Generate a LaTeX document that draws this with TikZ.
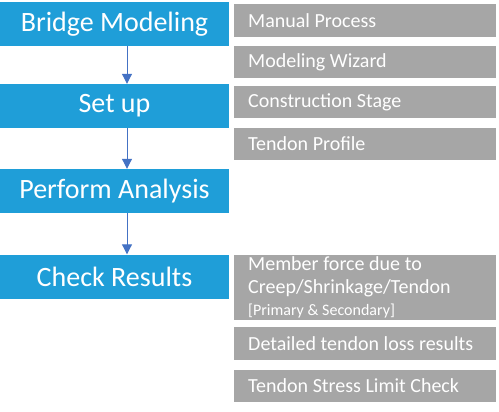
\documentclass[tikz,border=0pt]{standalone}
\usepackage{fontspec}
\setmainfont{Carlito}
\usetikzlibrary{arrows.meta}
\definecolor{stageblue}{RGB}{31,158,216}
\definecolor{itemgray}{RGB}{166,166,166}
\definecolor{flowblue}{RGB}{68,114,196}
\newcommand\tightspace{\spaceskip=0.23em plus 0.05em\relax}
\begin{document}
\begin{tikzpicture}[x=1pt,y=-1pt,
    stage/.style={fill=stageblue,text=white,minimum width=229pt,minimum height=44pt,
      inner sep=0pt,font=\fontsize{28}{30}\selectfont},
    item/.style={fill=itemgray,text=white,anchor=west,text width=234pt,inner xsep=14pt,
      inner ysep=0pt,minimum height=32pt,align=left,
      font=\fontsize{20}{23}\selectfont,execute at begin node=\tightspace},
    flow/.style={flowblue,line width=1pt,-{Triangle[width=10pt,length=10pt]}}]
    \useasboundingbox (0,0) rectangle (499,412);

    \node[stage] (model)   at (114.5,24)    {Bridge Modeling};
    \node[stage] (setup)   at (114.5,106)   {Set up};
    \node[stage] (analyse) at (114.5,191)   {Perform Analysis};
    \node[stage] (check)   at (114.5,276.5) {Check Results};

    \foreach \a/\b in {model/setup,setup/analyse,analyse/check}
      \draw[flow] ([xshift=12.5pt]\a.south) -- ([xshift=12.5pt]\b.north);

    \node[item,minimum height=33pt] (manual) at (234,20.5) {Manual Process};
    \node[item] (wizard)  at (234,62)    {Modeling Wizard};
    \node[item] (stages)  at (234,102.5) {Construction Stage};
    \node[item] (profile) at (234,144)   {Tendon Profile};

    \node[item,minimum height=65pt] (force) at (234,287.5)
      {Member force due to\\Creep/Shrinkage/Tendon\\[-1pt]{\fontsize{16}{18}\selectfont\tightspace [Primary \& Secondary]}};
    \node[item,minimum height=33pt] (loss) at (234,343.5) {Detailed tendon loss results};
    \node[item] (limit) at (234,386) {Tendon Stress Limit Check};
  \end{tikzpicture}
\end{document}
